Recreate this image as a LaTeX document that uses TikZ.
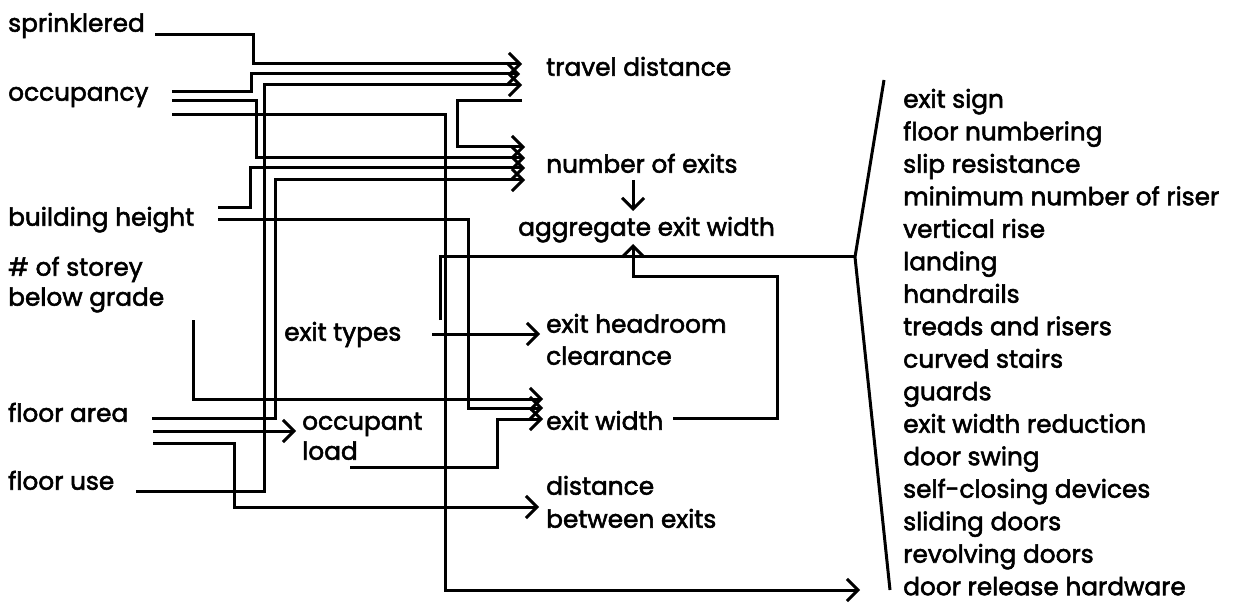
\documentclass[tikz,border=0pt]{standalone}
\usepackage{fontspec}
\setmainfont{Poppins}
\newfontfamily\medfont{Poppins}[FakeBold=2.2]
\usetikzlibrary{arrows.meta}
\begin{document}
\begin{tikzpicture}[x=1pt,y=-1pt,
  lbl/.style={anchor=mid west,inner sep=0pt,yshift=-5pt,font=\fontsize{24.8}{30}\medfont},
  ln/.style={line width=3pt,line join=miter},
  arr/.style={ln,-{Straight Barb[length=11pt,width=22pt,line width=3pt]}},
]
\useasboundingbox (0,0) rectangle (1233,609);
% left labels
\node[lbl] (sprk) at (8,24) {sprinklered};
\node[lbl] (occ) at (8,93) {occupancy};
\node[lbl] (bh) at (8,218) {building height};
\node[lbl] (st1) at (8,268) {\# of storey};
\node[lbl] (st2) at (8,298) {below grade};
\node[lbl] (fa) at (8,414) {floor area};
\node[lbl] (fu) at (8,482) {floor use};
% middle labels
\node[lbl] (td) at (546,68) {travel distance};
\node[lbl] (noe) at (546,165) {number of exits};
\node[lbl] (aew) at (518,228) {aggregate exit width};
\node[lbl] (et) at (284,333) {exit types};
\node[lbl] (eh1) at (546,325) {exit headroom};
\node[lbl] (eh2) at (546,357) {clearance};
\node[lbl] (ew) at (546,422) {exit width};
\node[lbl] (ol1) at (302,422) {occupant};
\node[lbl] (ol2) at (302,452) {load};
\node[lbl] (dbe1) at (546,487) {distance};
\node[lbl] (dbe2) at (546,520) {between exits};
% right list
\foreach \t [count=\i from 0] in {exit sign,floor numbering,slip resistance,minimum number of riser,vertical rise,landing,handrails,treads and risers,curved stairs,guards,exit width reduction,door swing,self-closing devices,sliding doors,revolving doors,door release hardware}
  \node[lbl] (r\i) at (903,100+32.5*\i) {\t};
% bracket
\coordinate (bt) at (884,80);
\coordinate (bm) at (855,257);
\coordinate (bb) at (890,590);
\draw[ln] (bt) -- (bm) -- (bb);
% connector endpoints
\coordinate (s1) at (155,35);
\coordinate (o1) at (172,92);
\coordinate (o2) at (172,101);
\coordinate (o3) at (172,115);
\coordinate (b1) at (218,208);
\coordinate (b2) at (218,220);
\coordinate (sg) at (193,320);
\coordinate (f1) at (152,418);
\coordinate (f2) at (153,431);
\coordinate (f3) at (153,443);
\coordinate (u1) at (136,491);
\coordinate (etE) at (432,334);
\coordinate (etU) at (440,320);
\coordinate (olE) at (350,467);
\coordinate (ewE) at (673,418);
\coordinate (tdR) at (522,101);
\coordinate (noeB) at (633,180);
% connectors
\draw[arr] (s1) -- (253,35) -- (253,64) -- (522,64);
\draw[arr] (o1) -- (251,92) -- (251,74) -- (520,74);
\draw[arr] (u1) -- (264,491) -- (264,85) -- (522,85);
\draw[arr] (tdR) -- (457,101) -- (457,147) -- (525,147);
\draw[arr] (o2) -- (256,101) -- (256,158) -- (525,158);
\draw[arr] (b1) -- (250,208) -- (250,168) -- (525,168);
\draw[arr] (f1) -- (275,418) -- (275,180) -- (525,180);
\draw[arr] (o3) -- (445,115) -- (445,590) -- (860,590);
\draw[arr] (noeB) -- (633,211);
\draw[arr] (b2) -- (468,220) -- (468,408) -- (543,408);
\draw[arr] (sg) -- (193,399) -- (543,399);
\draw[arr] (etE) -- (540,334);
\draw[ln] (etU) -- (440,257) -- (bm);
\draw[arr] (ewE) -- (777,418) -- (777,277) -- (633,277) -- (633,244);
\draw[arr] (olE) -- (497,467) -- (497,419) -- (543,419);
\draw[arr] (f2) -- (296,431);
\draw[arr] (f3) -- (234,443) -- (234,507) -- (539,507);
\end{tikzpicture}
\end{document}
